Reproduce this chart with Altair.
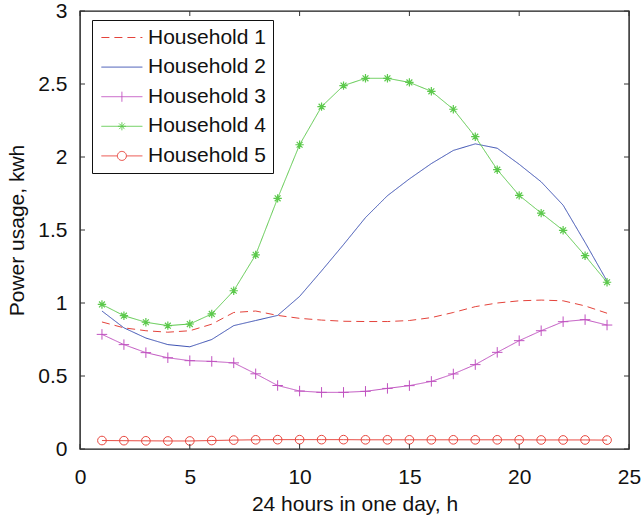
import altair as alt
import pandas as pd

hours = list(range(1, 25))
household_1 = [0.87, 0.83, 0.81, 0.80, 0.81, 0.855, 0.935, 0.945, 0.915, 0.895, 0.883, 0.875,
               0.873, 0.873, 0.88, 0.90, 0.935, 0.975, 1.0, 1.015, 1.02, 1.015, 0.98, 0.93]
household_2 = [0.945, 0.83, 0.76, 0.715, 0.70, 0.75, 0.845, 0.88, 0.915, 1.045, 1.22, 1.40,
               1.585, 1.735, 1.85, 1.955, 2.045, 2.09, 2.06, 1.95, 1.83, 1.67, 1.415, 1.15]
household_3 = [0.785, 0.715, 0.66, 0.625, 0.605, 0.60, 0.59, 0.515, 0.435, 0.397, 0.388, 0.388,
               0.395, 0.415, 0.434, 0.463, 0.514, 0.578, 0.662, 0.742, 0.81, 0.872, 0.886, 0.849]
household_4 = [0.99, 0.913, 0.868, 0.845, 0.856, 0.925, 1.084, 1.33, 1.717, 2.084, 2.345, 2.489,
               2.539, 2.539, 2.511, 2.45, 2.327, 2.139, 1.913, 1.737, 1.616, 1.498, 1.324, 1.142]
household_5 = [0.058, 0.057, 0.056, 0.055, 0.055, 0.058, 0.061, 0.063, 0.064, 0.064, 0.064, 0.064,
               0.063, 0.063, 0.063, 0.063, 0.063, 0.063, 0.063, 0.063, 0.062, 0.062, 0.062, 0.061]

series_names = ["Household 1", "Household 2", "Household 3", "Household 4", "Household 5"]
series_colors = ["#e4433b", "#3a4fb2", "#c052c0", "#5cc94c", "#e8463e"]
x_tick_values = [0, 5, 10, 15, 20, 25]
y_tick_values = [0, 0.5, 1, 1.5, 2, 2.5, 3]

FONT = "Liberation Sans"
W, H = 549, 438

rows = []
for name, vals in zip(series_names, [household_1, household_2, household_3, household_4, household_5]):
    for h, v in zip(hours, vals):
        rows.append({"hour": h, "kwh": v, "series": name})
df = pd.DataFrame(rows)

x_scale = alt.Scale(domain=[0, 25], nice=False, zero=False)
y_scale = alt.Scale(domain=[0, 3], nice=False)
color_scale = alt.Scale(domain=series_names, range=series_colors)
dash_scale = alt.Scale(domain=series_names, range=[[8, 5], [1, 0], [1, 0], [1, 0], [1, 0]])

x_axis = alt.Axis(values=x_tick_values, title="24 hours in one day, h", ticks=False, tickSize=0,
                  domain=False, grid=False, labelFont=FONT, labelFontSize=21, labelColor="#111",
                  labelPadding=34, labelBaseline="alphabetic", labelFlush=False, labelOverlap=False,
                  format="~g", titleFont=FONT, titleFontSize=21, titleFontWeight="normal",
                  titleColor="#111", titleX=W / 2, titleY=61, titleBaseline="alphabetic",
                  titleAlign="center")
y_axis = alt.Axis(values=y_tick_values, title="Power usage, kwh", ticks=False, tickSize=0,
                  domain=False, grid=False, labelFont=FONT, labelFontSize=21, labelColor="#111",
                  labelPadding=13, labelFlush=False, labelOverlap=False, format="~g",
                  titleFont=FONT, titleFontSize=21, titleFontWeight="normal", titleColor="#111",
                  titleAngle=270, titleX=-57, titleY=H / 2, titleBaseline="alphabetic",
                  titleAlign="center")

X = alt.X("hour:Q", scale=x_scale, axis=x_axis)
Y = alt.Y("kwh:Q", scale=y_scale, axis=y_axis)

# legend symbols: short line with the series marker in the middle
line_part = "M-0.81,0H3.29"
legend_paths = [
    line_part,
    line_part,
    line_part + "M1.24,-0.5V0.5",
    line_part + "M0.84,0H1.64M1.24,-0.4V0.4M0.96,-0.28L1.52,0.28M0.96,0.28L1.52,-0.28",
    "M-0.81,0H0.79M1.69,0H3.29M1.69,0A0.45,0.45 0 1,1 0.79,0A0.45,0.45 0 1,1 1.69,0",
]
legend_def = alt.Legend(
    title=None, orient="none", legendX=12, legendY=9, padding=7,
    strokeColor="#111", fillColor="white", cornerRadius=0,
    labelFont=FONT, labelFontSize=21, labelColor="#111", labelOffset=28, labelLimit=300,
    rowPadding=7.6, symbolSize=400, symbolStrokeWidth=1, symbolOpacity=1,
    symbolFillColor="transparent",
)
legend_layer = alt.Chart(df).mark_point(opacity=0, filled=False, strokeWidth=1).encode(
    x=X, y=Y,
    color=alt.Color("series:N", scale=color_scale, legend=legend_def),
    shape=alt.Shape("series:N", scale=alt.Scale(domain=series_names, range=legend_paths),
                    legend=legend_def),
    strokeDash=alt.StrokeDash("series:N", scale=dash_scale, legend=legend_def),
)

lines = alt.Chart(df).mark_line(strokeWidth=1).encode(
    x=X, y=Y,
    color=alt.Color("series:N", scale=color_scale, legend=legend_def),
    strokeDash=alt.StrokeDash("series:N", scale=dash_scale, legend=legend_def),
)

plus_path = "M-1,0H1M0,-1V1"
star_path = "M-1,0H1M0,-1V1M-0.7,-0.7L0.7,0.7M-0.7,0.7L0.7,-0.7"

markers3 = alt.Chart(df).transform_filter(alt.datum.series == "Household 3").mark_point(
    shape=plus_path, size=110, filled=False, strokeWidth=1, color=series_colors[2], opacity=1
).encode(x=X, y=Y)
markers4 = alt.Chart(df).transform_filter(alt.datum.series == "Household 4").mark_point(
    shape=star_path, size=70, filled=False, strokeWidth=1.2, color=series_colors[3], opacity=1
).encode(x=X, y=Y)
markers5 = alt.Chart(df).transform_filter(alt.datum.series == "Household 5").mark_point(
    shape="circle", size=75, filled=False, strokeWidth=1, color=series_colors[4], opacity=1
).encode(x=X, y=Y)

# inward ticks on all four sides
xt = pd.DataFrame({"t": x_tick_values})
yt = pd.DataFrame({"t": y_tick_values})
tick_dx = 5 * 25 / W
tick_dy = 5 * 3 / H
tick_color = "#333333"
bottom_ticks = alt.Chart(xt).mark_rule(color=tick_color, strokeWidth=1).encode(
    x=alt.X("t:Q", scale=x_scale, axis=x_axis), y=alt.datum(0), y2=alt.datum(tick_dy))
top_ticks = alt.Chart(xt).mark_rule(color=tick_color, strokeWidth=1).encode(
    x=alt.X("t:Q", scale=x_scale, axis=x_axis), y=alt.datum(3 - tick_dy), y2=alt.datum(3))
left_ticks = alt.Chart(yt).mark_rule(color=tick_color, strokeWidth=1).encode(
    y=alt.Y("t:Q", scale=y_scale, axis=y_axis), x=alt.datum(0), x2=alt.datum(tick_dx))
right_ticks = alt.Chart(yt).mark_rule(color=tick_color, strokeWidth=1).encode(
    y=alt.Y("t:Q", scale=y_scale, axis=y_axis), x=alt.datum(25 - tick_dx), x2=alt.datum(25))

chart = alt.layer(
    legend_layer, lines, markers3, markers4, markers5,
    bottom_ticks, top_ticks, left_ticks, right_ticks,
).properties(
    width=W, height=H, autosize="none",
    padding={"left": 80, "top": 11, "right": 643 - 80 - W, "bottom": 522 - 11 - H},
    background="white",
).configure_view(stroke="#1a1a1a", strokeWidth=1.4)

chart.save("out.html", embed_options={"renderer": "svg", "actions": False})
